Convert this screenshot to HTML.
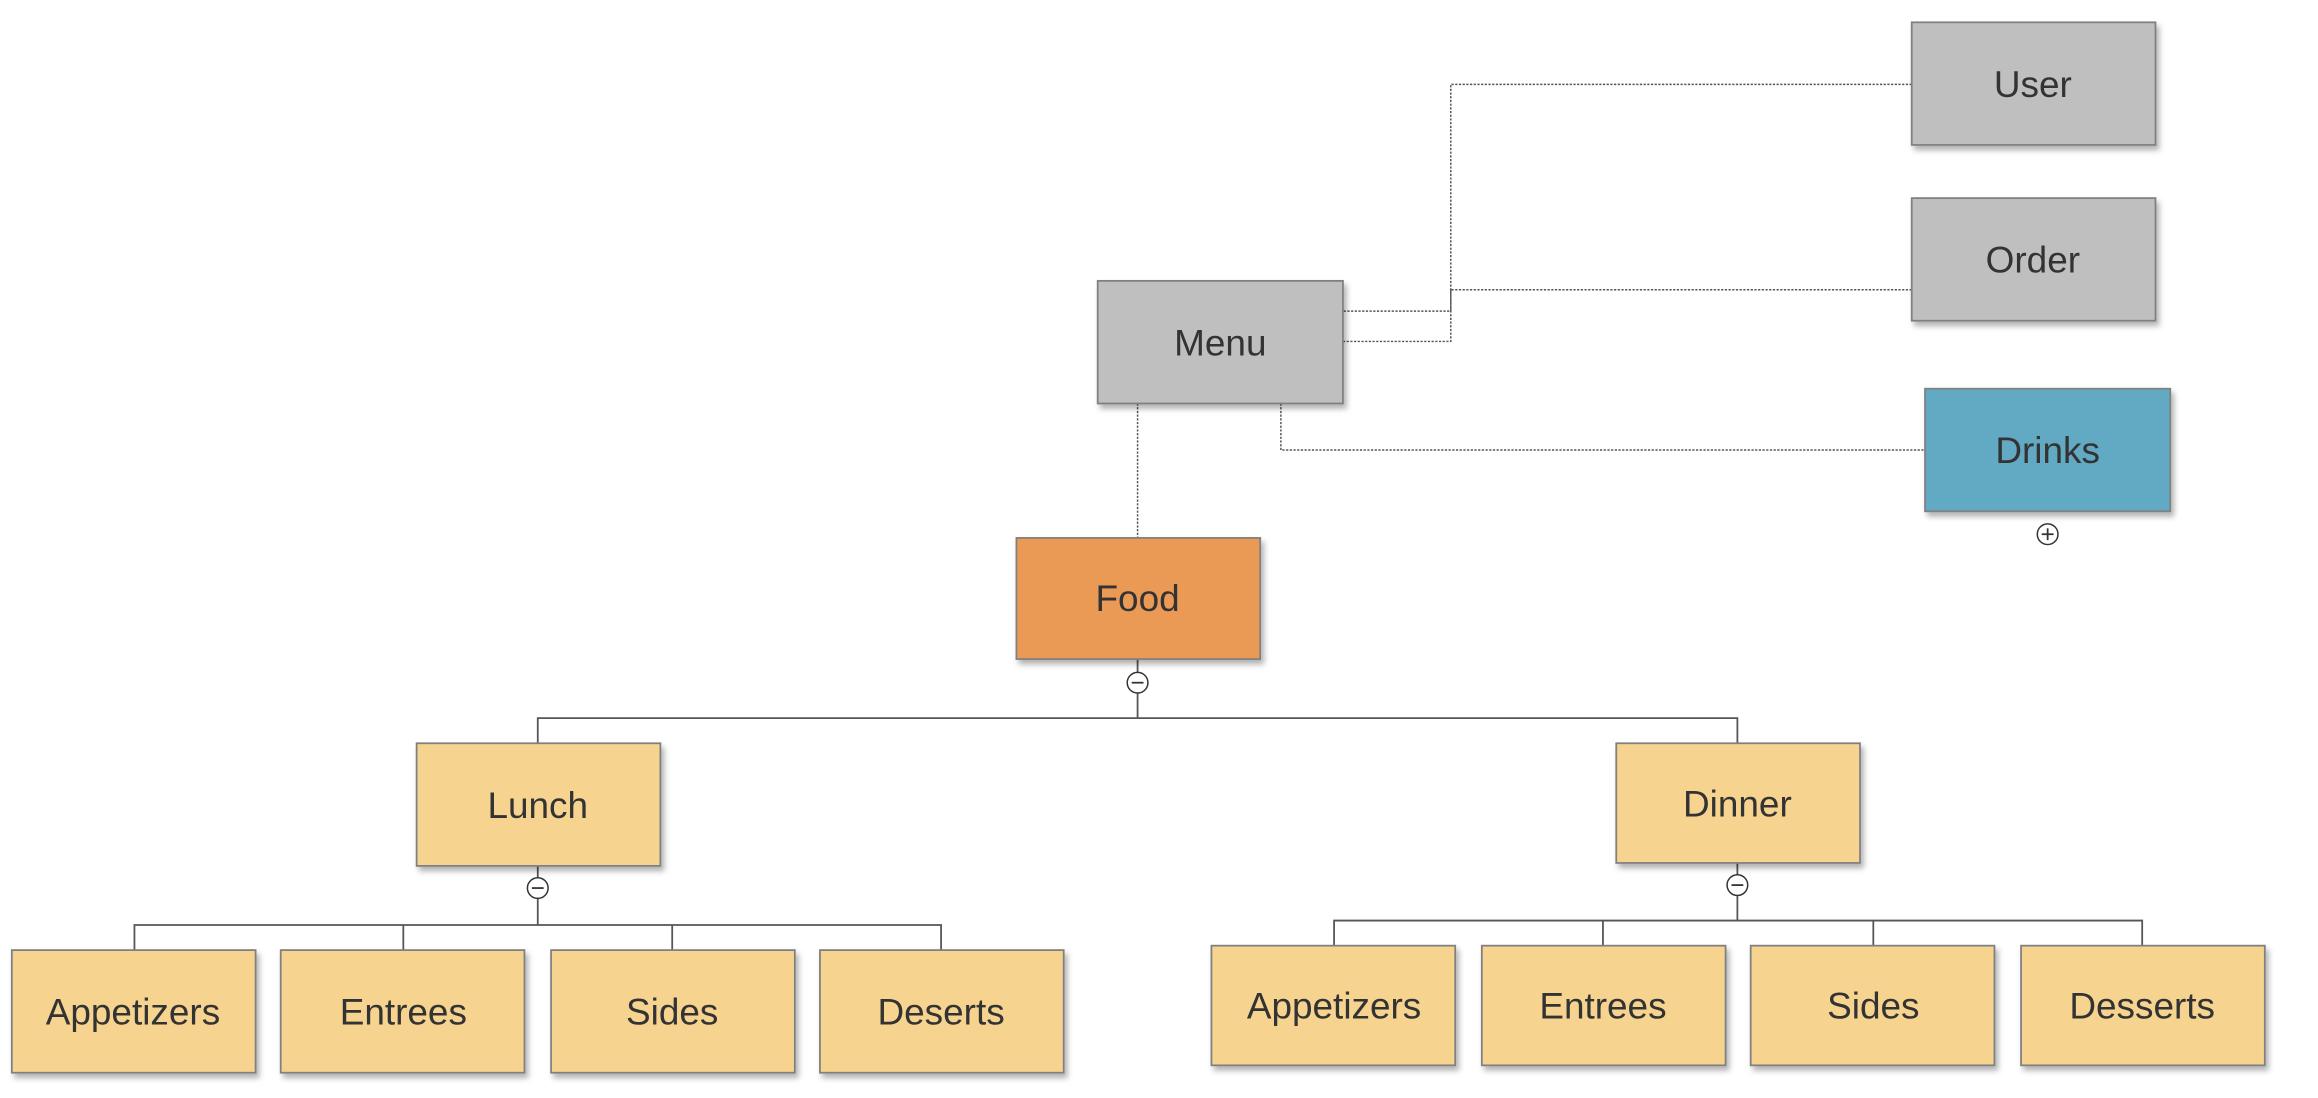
<!DOCTYPE html>
<html><head><meta charset="utf-8"><style>
html,body{margin:0;padding:0;background:#fff;}
svg{display:block;}
text{font-family:"Liberation Sans",Arial,sans-serif;font-size:25px;fill:#333;text-anchor:middle;dominant-baseline:central;}
</style></head><body>
<svg width="2318" height="1098" viewBox="0 0 1569 743" xmlns="http://www.w3.org/2000/svg">
<defs>
<filter id="sh" x="-10%" y="-10%" width="130%" height="140%">
<feDropShadow dx="2" dy="3" stdDeviation="2" flood-color="#000" flood-opacity="0.3"/>
</filter>
</defs>
<!-- dotted connectors -->
<g fill="none" stroke="#555" stroke-width="1" stroke-dasharray="1.5,1">
<polyline points="1294,57 982,57 982,231 909,231"/>
<polyline points="1294,196 982,196 982,210.5 909,210.5"/>
<polyline points="867,273 867,304.5 1303,304.5"/>
<line x1="770" y1="273" x2="770" y2="364"/>
</g>
<!-- solid connectors -->
<g fill="none" stroke="#555" stroke-width="1.2">
<line x1="770" y1="446" x2="770" y2="486"/>
<polyline points="364,503 364,486 1176,486 1176,503"/>
<line x1="364" y1="586" x2="364" y2="626"/>
<polyline points="91,643 91,626 637,626 637,643"/>
<line x1="273" y1="626" x2="273" y2="643"/>
<line x1="455" y1="626" x2="455" y2="643"/>
<line x1="1176" y1="584" x2="1176" y2="623"/>
<polyline points="903,640 903,623 1450,623 1450,640"/>
<line x1="1085" y1="623" x2="1085" y2="640"/>
<line x1="1268" y1="623" x2="1268" y2="640"/>
</g>
<!-- boxes -->
<g stroke="#808080" stroke-width="1.2" filter="url(#sh)">
<rect x="1294" y="15" width="165" height="83" fill="#bfbfbf"/>
<rect x="1294" y="134" width="165" height="83" fill="#bfbfbf"/>
<rect x="743" y="190" width="166" height="83" fill="#bfbfbf"/>
<rect x="1303" y="263" width="166" height="83" fill="#62a9c3"/>
<rect x="688" y="364" width="165" height="82" fill="#ea9a55"/>
<rect x="282" y="503" width="165" height="83" fill="#f6d48f"/>
<rect x="1094" y="503" width="165" height="81" fill="#f6d48f"/>
<rect x="8" y="643" width="165" height="83" fill="#f6d48f"/>
<rect x="190" y="643" width="165" height="83" fill="#f6d48f"/>
<rect x="373" y="643" width="165" height="83" fill="#f6d48f"/>
<rect x="555" y="643" width="165" height="83" fill="#f6d48f"/>
<rect x="820" y="640" width="165" height="81" fill="#f6d48f"/>
<rect x="1003" y="640" width="165" height="81" fill="#f6d48f"/>
<rect x="1185" y="640" width="165" height="81" fill="#f6d48f"/>
<rect x="1368" y="640" width="165" height="81" fill="#f6d48f"/>
</g>
<!-- collapse circles -->
<g fill="#fff" stroke="#333" stroke-width="1">
<circle cx="770" cy="462" r="7"/>
<circle cx="364" cy="601" r="7"/>
<circle cx="1176" cy="599" r="7"/>
<circle cx="1386" cy="361.5" r="7"/>
</g>
<g stroke="#333" stroke-width="1.2">
<line x1="766" y1="462" x2="774" y2="462"/>
<line x1="360" y1="601" x2="368" y2="601"/>
<line x1="1172" y1="599" x2="1180" y2="599"/>
<line x1="1382" y1="361.5" x2="1390" y2="361.5"/>
<line x1="1386" y1="357.5" x2="1386" y2="365.5"/>
</g>
<!-- labels -->
<text x="1376" y="57">User</text>
<text x="1376" y="176">Order</text>
<text x="826" y="232">Menu</text>
<text x="1386" y="305">Drinks</text>
<text x="770" y="405">Food</text>
<text x="364" y="545">Lunch</text>
<text x="1176" y="544">Dinner</text>
<text x="90" y="685">Appetizers</text>
<text x="273" y="685">Entrees</text>
<text x="455" y="685">Sides</text>
<text x="637" y="685">Deserts</text>
<text x="903" y="681">Appetizers</text>
<text x="1085" y="681">Entrees</text>
<text x="1268" y="681">Sides</text>
<text x="1450" y="681">Desserts</text>
</svg>
</body></html>
